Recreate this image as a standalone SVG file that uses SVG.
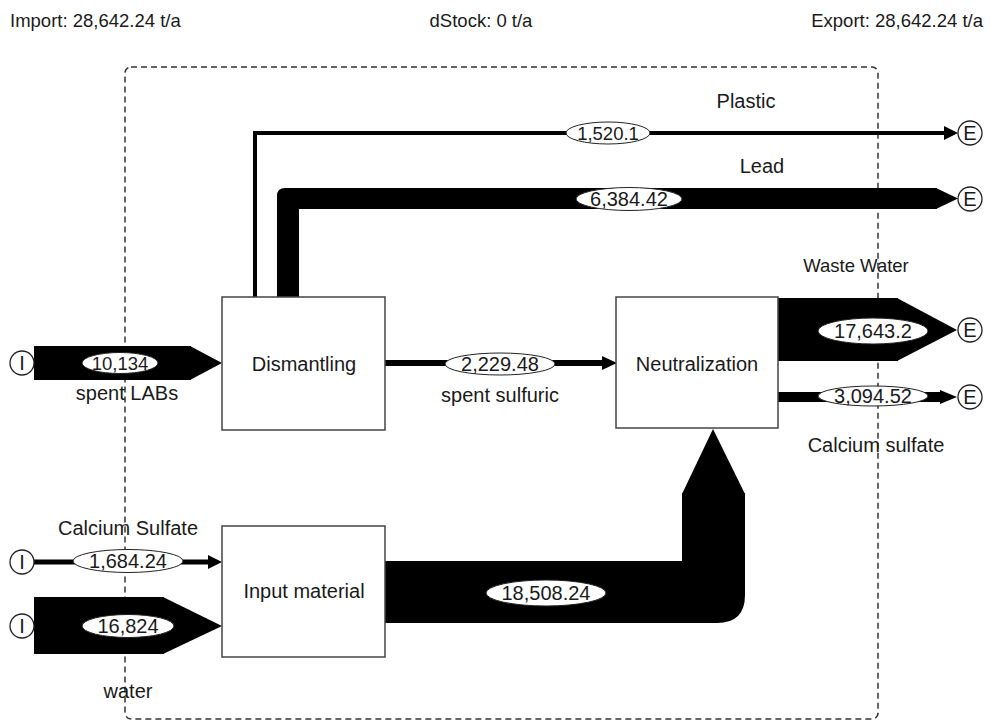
<svg xmlns="http://www.w3.org/2000/svg" width="997" height="724" viewBox="0 0 997 724">
<style>
text{font-family:"Liberation Sans",Arial,sans-serif;font-size:20px;fill:#1a1a1a}
.h{font-size:18.5px}
.s{font-size:18.5px}
.c{text-anchor:middle}
.box{fill:#fff;stroke:#444;stroke-width:1.5}
.lbl{fill:#fff;stroke:#222;stroke-width:1}
.term{fill:#fff;stroke:#222;stroke-width:1.3}
.band{fill:#000}
.ln{stroke:#000;fill:none}
</style>
<rect width="997" height="724" fill="#fff"/>
<text class="h" x="10" y="27">Import: 28,642.24 t/a</text>
<text class="h c" x="481" y="27">dStock: 0 t/a</text>
<text class="h" x="983" y="27" text-anchor="end">Export: 28,642.24 t/a</text>
<rect x="125" y="67" width="753" height="652" rx="6" fill="none" stroke="#333" stroke-width="1.5" stroke-dasharray="6 4"/>
<g id="connectors">
<path class="ln" d="M255,297 V133 H945" stroke-width="4"/>
<polygon points="944,126 958,133 944,140"/>
<path class="band" d="M277,297 V196 Q277,188 285,188 H937 V209 H299 V297 Z"/>
<polygon points="936,188 958,198.5 936,209"/>
<rect class="band" x="34" y="346" width="157" height="34"/>
<polygon points="190,346 222,363 190,380"/>
<path class="ln" d="M385,363 H604" stroke-width="6"/>
<polygon points="602,356 617,363 602,370"/>
<rect class="band" x="778" y="298" width="120" height="63"/>
<polygon points="897,298 957,330 897,361"/>
<path class="ln" d="M778,397 H942" stroke-width="10"/>
<polygon points="940,390 957,397 940,404"/>
<path class="ln" d="M34,562 H210" stroke-width="5"/>
<polygon points="208,555 222,562 208,569"/>
<rect class="band" x="34" y="597" width="130" height="57"/>
<polygon points="163,597 222,626 163,654"/>
<path class="band" d="M385,561 H682 V493 H745 V595 Q745,623 717,623 H385 Z"/>
<polygon points="682,494 745,494 713,429"/>
</g>
<g id="labels">
<ellipse class="lbl" cx="608" cy="133" rx="42" ry="11"/><text class="c s" x="608" y="139.5">1,520.1</text>
<text class="c" x="746" y="108">Plastic</text>
<ellipse class="lbl" cx="629" cy="199" rx="53" ry="11.5"/><text class="c" x="629" y="206">6,384.42</text>
<text class="c" x="762" y="173">Lead</text>
<ellipse class="lbl" cx="120" cy="363" rx="38" ry="10.5"/><text class="c s" x="120" y="369.5">10,134</text>
<text class="c" x="127" y="400">spent LABs</text>
<ellipse class="lbl" cx="500" cy="364" rx="55" ry="11"/><text class="c" x="500" y="371">2,229.48</text>
<text class="c" x="500" y="402">spent sulfuric</text>
<ellipse class="lbl" cx="873" cy="331" rx="55" ry="13"/><text class="c" x="873" y="338">17,643.2</text>
<text class="c s" x="856" y="272">Waste Water</text>
<ellipse class="lbl" cx="873" cy="396" rx="55" ry="10"/><text class="c" x="873" y="403">3,094.52</text>
<text class="c" x="876" y="452">Calcium sulfate</text>
<ellipse class="lbl" cx="128" cy="561" rx="55" ry="11.5"/><text class="c" x="128" y="568">1,684.24</text>
<text class="c" x="128" y="535">Calcium Sulfate</text>
<ellipse class="lbl" cx="128" cy="626" rx="46" ry="11.5"/><text class="c" x="128" y="633">16,824</text>
<text class="c" x="128" y="698">water</text>
<ellipse class="lbl" cx="546" cy="593" rx="60" ry="13"/><text class="c" x="546" y="600">18,508.24</text>
</g>
<g id="node-dismantling"><rect class="box" x="222" y="297" width="163" height="133"/><text class="c" x="304" y="371">Dismantling</text></g>
<g id="node-neutralization"><rect class="box" x="616" y="297" width="162" height="131"/><text class="c" x="697" y="371">Neutralization</text></g>
<g id="node-input"><rect class="box" x="222" y="526" width="163" height="131"/><text class="c" x="304" y="598">Input material</text></g>
<g id="import-1"><circle class="term" cx="22" cy="363" r="12"/><text class="c" x="22" y="370">I</text></g>
<g id="import-2"><circle class="term" cx="22" cy="562" r="12"/><text class="c" x="22" y="569">I</text></g>
<g id="import-3"><circle class="term" cx="22" cy="626" r="12"/><text class="c" x="22" y="633">I</text></g>
<g id="export-1"><circle class="term" cx="970" cy="133" r="12"/><text class="c" x="970" y="140">E</text></g>
<g id="export-2"><circle class="term" cx="970" cy="199" r="12"/><text class="c" x="970" y="206">E</text></g>
<g id="export-3"><circle class="term" cx="970" cy="330" r="12"/><text class="c" x="970" y="337">E</text></g>
<g id="export-4"><circle class="term" cx="970" cy="397" r="12"/><text class="c" x="970" y="404">E</text></g>
</svg>
